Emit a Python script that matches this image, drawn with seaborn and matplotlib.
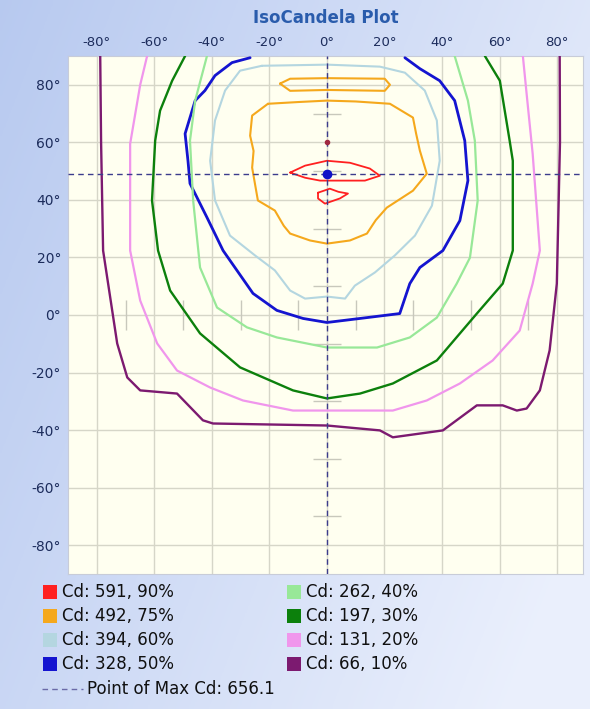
import numpy as np
import matplotlib
matplotlib.use("Agg")
import matplotlib.pyplot as plt
from matplotlib.patches import Rectangle
from matplotlib.lines import Line2D
import seaborn as sns

# iso levels: candela, percent of max, colour
cd_levels = [591, 492, 394, 328, 262, 197, 131, 66]
pct_levels = [90, 75, 60, 50, 40, 30, 20, 10]
level_colors = ["#ff2020", "#f5a81c", "#b4d6e0", "#1414d0", "#98e898", "#0c800c", "#f096ec", "#7c1a70"]
max_cd = 656.1
max_x, max_y = 0, 49
ticks = [-80, -60, -40, -20, 0, 20, 40, 60, 80]
minor = [-70, -50, -30, -10, 10, 30, 50, 70]

# contour traces (deg horizontal, deg vertical)
iso90a_x = [-12.8, -7.6, 0, 8, 14.9, 18.4, 13.2, 4.5, -2.4, -7.6]
iso90a_y = [49.5, 51.9, 53.6, 52.9, 50.9, 48.4, 46.7, 46.7, 46.7, 47.7]
iso90b_x = [-3.1, 1, 4, 7.3, 4.5, -0.7, -3.1]
iso90b_y = [42.5, 43.9, 42.8, 42.2, 40.5, 38.7, 40.5]

iso75a_x = [-20.5, -26, -26.7, -25.5, -26, -24, -18.1, -15, -12.8, -5.9, 0, 8, 13.9, 17, 20.8, 29.9, 34.7, 32.3, 31, 29.9, 21.9, 10, 0, -10]
iso75a_y = [73.4, 69.3, 62.3, 57, 51.2, 39.8, 36.3, 31, 28.3, 25.9, 24.8, 25.9, 28.3, 33, 37.3, 43.2, 49.1, 57.1, 63, 68.6, 73.4, 74.2, 74.5, 74]
iso75b_x = [-16.3, -12.8, 0, 20.1, 21.9, 20.1, 0, -12.8]
iso75b_y = [80.4, 82.1, 82.3, 82.1, 80, 77.9, 78.2, 77.9]

iso60_x = [-22.6, -30.2, -35.4, -38.9, -40.6, -38.9, -33.7, -25, -18.1, -12.8, -7.6, 0, 6.3, 9.7, 16.7, 23.6, 30.6, 36.5, 39.2, 38.2, 34, 27.1, 18.4, 0]
iso60_y = [86.6, 84.9, 78, 67.6, 53.6, 39.8, 27.6, 20.7, 15.5, 8.5, 5.7, 6.4, 5.7, 10.2, 14.8, 20.7, 27.6, 38, 53.6, 67.6, 78, 84.2, 86.3, 87]

iso50_x = [-26.7, -33, -38.9, -42.4, -45.8, -49.3, -48.3, -47.6, -41.7, -36.1, -25.7, -17.4, -8.3, 0, 11.5, 25.3, 28.8, 32.3, 40.3, 46.2, 49, 47.9, 44.4, 39.2, 32.3, 27.1]
iso50_y = [89.4, 87.7, 83.2, 78, 74.5, 63, 53.6, 45.7, 33.9, 22.4, 7.5, 1.6, -1.2, -2.6, -1.2, 0.5, 10.9, 16.5, 22.4, 32.8, 46.7, 60.6, 74.5, 81.4, 85.6, 89.4]

iso40_x = [-41.7, -45.8, -47.6, -46.5, -44.1, -38.2, -27.8, -17.4, 0, 17.4, 28.8, 38.2, 45.1, 49.7, 52.4, 51.4, 49, 44.4]
iso40_y = [90, 74.5, 60.6, 39.8, 16.5, 2.6, -4.3, -7.8, -11.3, -11.3, -7.8, -0.9, 10.9, 19.9, 39.8, 60.6, 74.5, 90]

iso30_x = [-49.3, -53.8, -58, -59.7, -60.8, -58.7, -54.5, -44.1, -30.2, -11.8, 0, 11.5, 22.9, 38.2, 52.1, 61.1, 64.6, 64.6, 63.5, 60.1, 54.9]
iso30_y = [90, 81.4, 71, 60.6, 39.8, 22.4, 8.5, -6.4, -18.2, -26.2, -29, -27.3, -23.8, -15.8, 0.5, 10.9, 22.4, 53.6, 60.6, 81.4, 90]

iso20_x = [-62.5, -64.9, -68.4, -68.4, -64.9, -59, -52.1, -40.6, -29.2, -11.8, 0, 22.9, 34.7, 46.2, 57.6, 67, 71.5, 74, 71.5, 69.4, 68.1]
iso20_y = [90, 80, 59.5, 22.4, 5, -9.9, -19.3, -25.2, -29.7, -33.2, -33.2, -33.2, -29.7, -23.8, -15.8, -5.4, 10.9, 22.4, 56.1, 76.9, 90]

iso10_x = [-78.8, -78.5, -77.8, -72.9, -69.4, -64.9, -52.1, -43.1, -39.6, 0, 18.4, 22.9, 40.3, 52.1, 61.1, 66, 69.4, 74, 77.4, 79.9, 81, 80.9]
iso10_y = [90, 60, 22.4, -9.9, -21.7, -26.2, -27.3, -36.6, -37.7, -38.4, -40.1, -42.5, -40.1, -31.4, -31.4, -33.2, -32.5, -26.2, -12.3, 10.9, 60, 90]

traces = [
    (iso90a_x, iso90a_y, 0, True), (iso90b_x, iso90b_y, 0, True),
    (iso75a_x, iso75a_y, 1, True), (iso75b_x, iso75b_y, 1, True),
    (iso60_x, iso60_y, 2, True), (iso50_x, iso50_y, 3, False),
    (iso40_x, iso40_y, 4, False), (iso30_x, iso30_y, 5, False),
    (iso20_x, iso20_y, 6, False), (iso10_x, iso10_y, 7, False),
]
widths = [1.3, 1.5, 1.5, 2.0, 1.6, 1.7, 1.6, 1.7]

sns.set_theme(style="white")
plt.rcParams["font.family"] = ["DejaVu Sans"]

W, H = 590, 709
fig = plt.figure(figsize=(W / 100, H / 100), dpi=100)

# blue gradient background
bg = fig.add_axes([0, 0, 1, 1], zorder=-5)
gx, gy = np.meshgrid(np.linspace(0, 1, 200), np.linspace(0, 1, 200))
t = np.clip(0.75 * gx + 0.35 * gy, 0, 1)[..., None]
c0 = np.array([0.72, 0.79, 0.94])
c1 = np.array([0.92, 0.94, 0.99])
bg.imshow(c0 * (1 - t) + c1 * t, aspect="auto", extent=[0, 1, 0, 1], origin="upper")
bg.axis("off")

ax = fig.add_axes([68 / W, 1 - 574 / H, 515 / W, 518 / H])
ax.set_facecolor("#fffff0")
ax.set_xlim(-90, 89)
ax.set_ylim(-90, 90)
ax.set_xticks(ticks)
ax.set_yticks(ticks)
ax.grid(True, color="#d6d6c8", lw=1)
ax.set_axisbelow(True)
ax.xaxis.tick_top()
lab_col = "#1c2c5c"
ax.set_xticklabels([f"{v}°" for v in ticks], color=lab_col, fontsize=9.5)
ax.set_yticklabels([f"{v}°" for v in ticks], color=lab_col, fontsize=10)
ax.tick_params(length=0, pad=5)
for s in ax.spines.values():
    s.set_color("#c8ccd8")
    s.set_linewidth(0.8)

# small cross ticks along the zero lines
ax.plot([0] * len(minor), minor, ls="none", marker="_", ms=20, mew=1, color="#c8c8bc", zorder=1)
ax.plot(minor, [0] * len(minor), ls="none", marker="|", ms=22, mew=1, color="#c8c8bc", zorder=1)

for xs, ys, k, closed in traces:
    xs = list(xs)
    ys = list(ys)
    if closed:
        xs.append(xs[0])
        ys.append(ys[0])
    sns.lineplot(x=xs, y=ys, sort=False, estimator=None, color=level_colors[k],
                 lw=widths[k], ax=ax, zorder=3)

dash_col = "#3c3c8c"
ax.axvline(max_x, color=dash_col, lw=1, ls=(0, (4, 3)), zorder=4)
ax.axhline(max_y, color=dash_col, lw=1, ls=(0, (4, 3)), zorder=4)
ax.plot([max_x], [max_y], "o", ms=6, color="#1010c8", zorder=5)
ax.plot([0], [60], "o", ms=3, color="#a02840", zorder=5)

fig.text(0.5 * (68 + 583) / W, 1 - 18 / H, "IsoCandela Plot", ha="center", va="center",
         fontsize=12, fontweight="bold", color="#2a5cac")

# legend, two columns
row_y = [592, 616, 640, 664]
col_x = [43, 287]
for i, (cd, pct, col) in enumerate(zip(cd_levels, pct_levels, level_colors)):
    cx = col_x[i // 4]
    cy = row_y[i % 4]
    fig.add_artist(Rectangle((cx / W, 1 - (cy + 7) / H), 14 / W, 14 / H,
                             transform=fig.transFigure, color=col, lw=0))
    fig.text((cx + 19) / W, 1 - cy / H, f"Cd: {cd}, {pct}%", ha="left", va="center",
             fontsize=12, color="#101010")
fig.add_artist(Line2D([42 / W, 83 / W], [1 - 689 / H] * 2, transform=fig.transFigure,
                      color="#6a6aa8", lw=1, ls=(0, (4, 3))))
fig.text(87 / W, 1 - 689 / H, f"Point of Max Cd: {max_cd}", ha="left", va="center",
         fontsize=12, color="#101010")

fig.savefig("out.png", dpi=100)
